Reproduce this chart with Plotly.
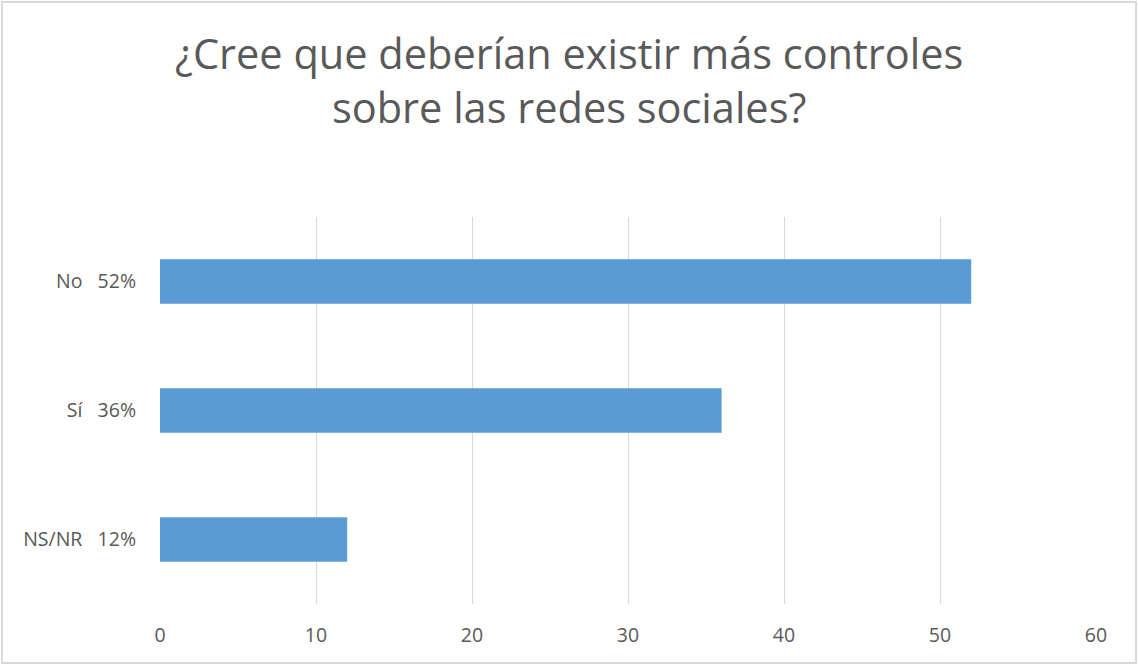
import plotly.graph_objects as go

categories = ["NS/NR\u00a0\u00a0\u00a012%", "Sí\u00a0\u00a0\u00a036%", "No\u00a0\u00a0\u00a052%"]
values = [12, 36, 52]
x_ticks = [0, 10, 20, 30, 40, 50, 60]
title_text = "¿Cree que deberían existir más controles<br>sobre las redes sociales?"

W, H = 1138, 666
L, R, T, B = 160, 42, 217, 62
pw, ph = W - L - R, H - T - B

fig = go.Figure(go.Bar(
    x=values, y=categories, orientation="h",
    marker=dict(color="#5B9BD5", line=dict(width=0)),
    width=0.345,
))

fig.update_layout(
    width=W, height=H,
    margin=dict(l=L, r=R, t=T, b=B),
    paper_bgcolor="white", plot_bgcolor="white",
    font=dict(family="Open Sans, Noto Sans, sans-serif", color="#595959", size=19.5),
    xaxis=dict(
        range=[0, 60], tickvals=x_ticks, showgrid=True, gridcolor="#D9D9D9", gridwidth=1.3,
        zeroline=False, showline=False, ticks="", ticklabelstandoff=17,
        tickfont=dict(size=19.5, color="#595959"),
    ),
    yaxis=dict(
        showgrid=False, zeroline=False, showline=False, ticks="", ticklabelstandoff=23,
        tickfont=dict(size=19.5, color="#595959"),
    ),
    showlegend=False,
    annotations=[dict(text=title_text, xref="paper", yref="paper",
                      x=(W / 2 - L) / pw, y=1 + (T - 80) / ph,
                      xanchor="center", yanchor="middle", showarrow=False,
                      font=dict(size=41.5, color="#595959"))],
    shapes=[dict(type="rect", xref="paper", yref="paper",
                 x0=-(L - 2) / pw, x1=1 + (R - 2) / pw,
                 y0=-(B - 3) / ph, y1=1 + (T - 2) / ph,
                 line=dict(color="#D9D9D9", width=2))],
)

fig.write_html("out.html", config={"displayModeBar": False},
               post_script="document.body.style.margin='0';document.body.style.overflow='hidden';")
